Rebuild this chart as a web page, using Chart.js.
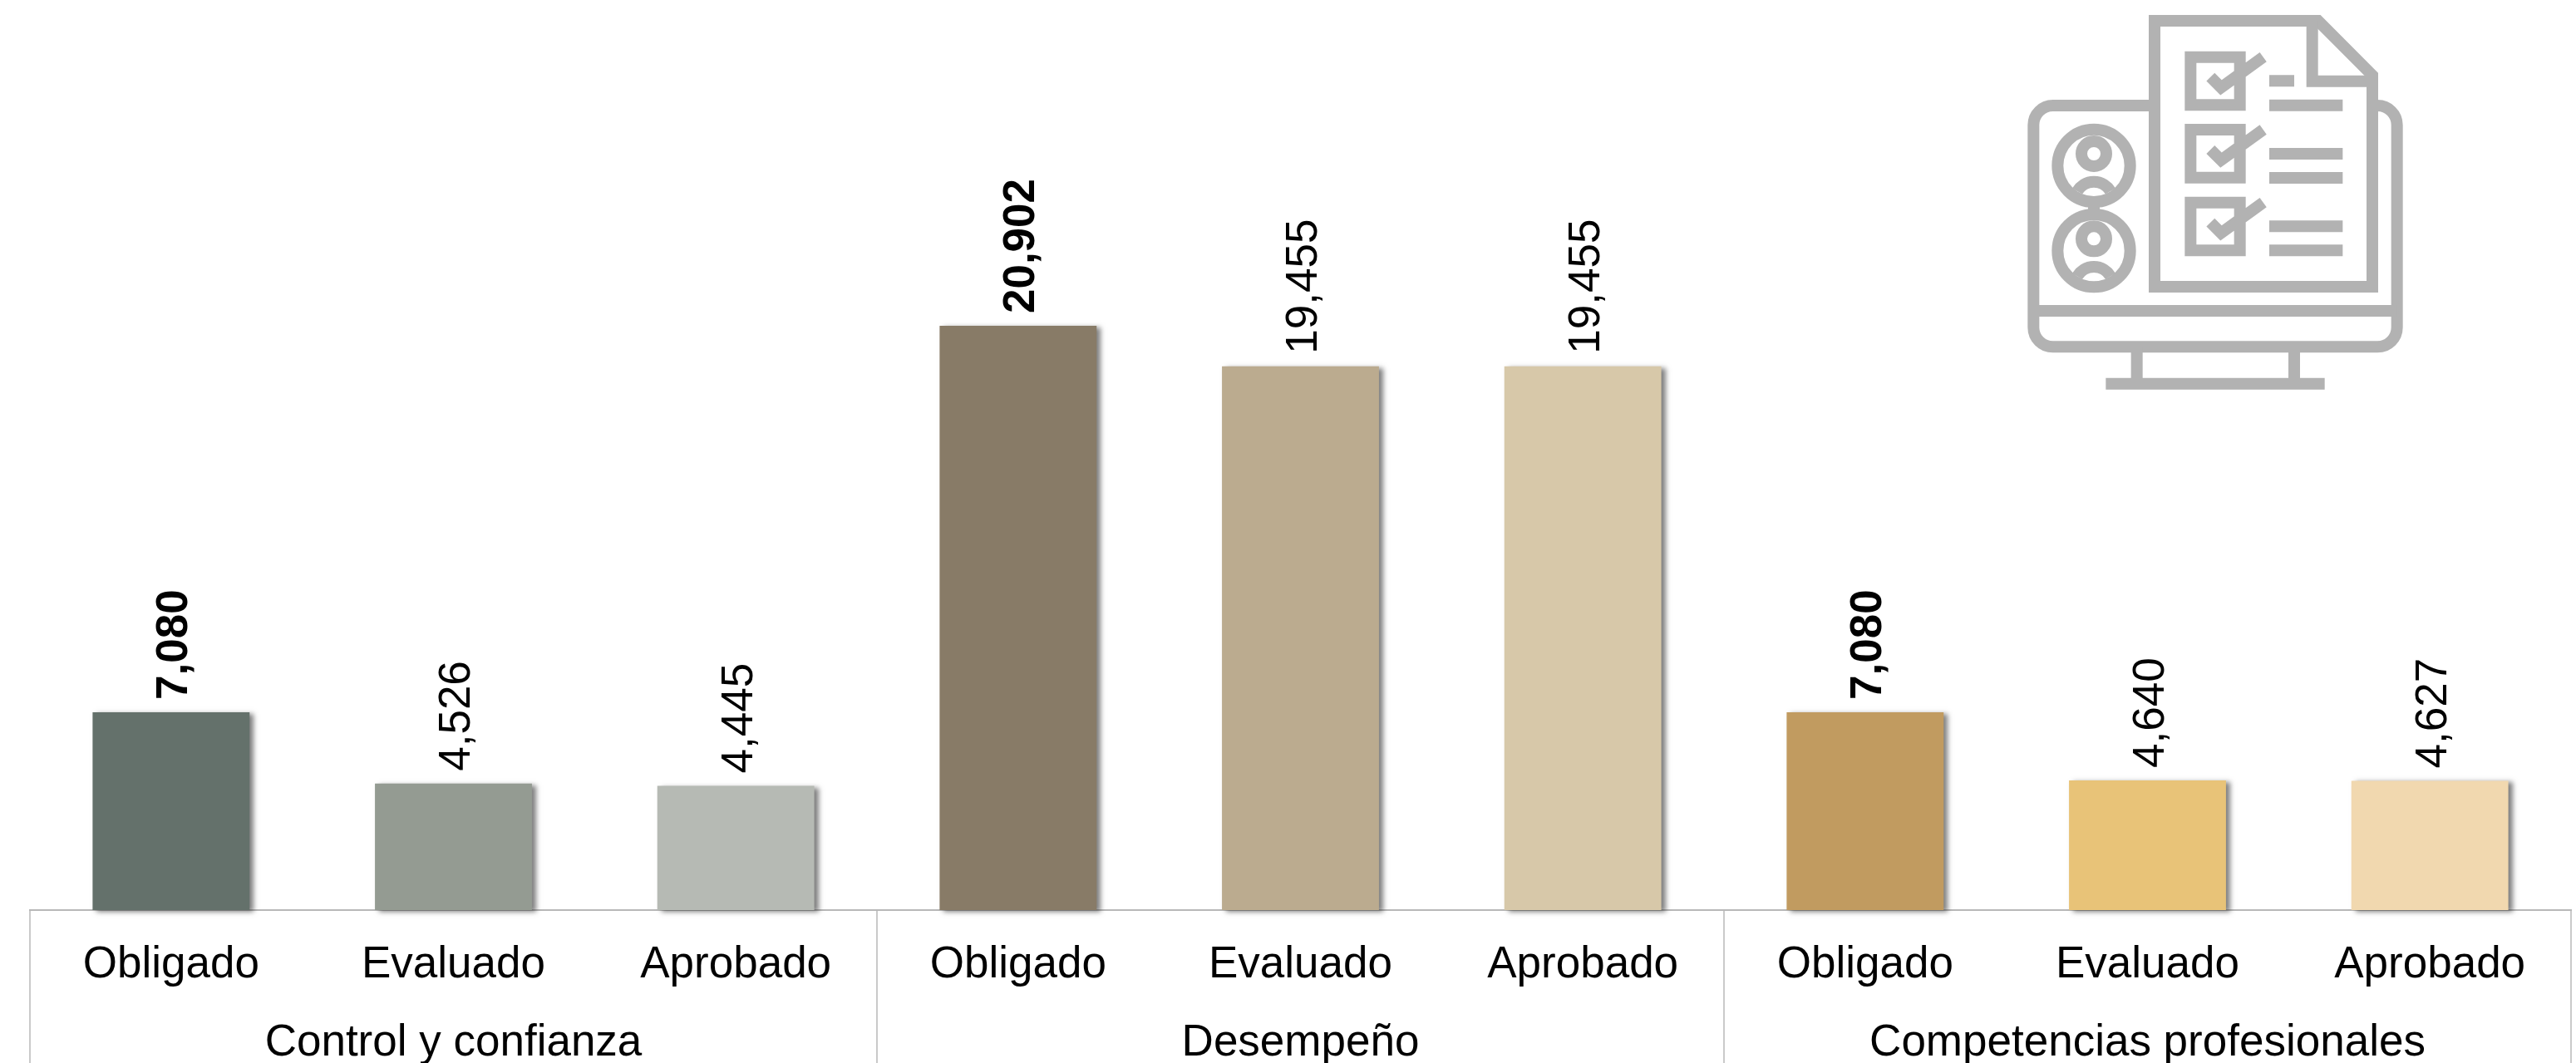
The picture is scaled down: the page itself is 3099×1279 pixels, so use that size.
<!DOCTYPE html>
<html lang="es">
<head>
<meta charset="utf-8">
<title>Chart</title>
<script src="https://cdn.jsdelivr.net/npm/chart.js@4"></script>
<style>
html,body{margin:0;padding:0;background:#fff;overflow:hidden}
#wrap{position:relative;width:3099px;height:1279px}
canvas{position:absolute;left:0;top:0}
#icon{position:absolute;left:2400px;top:0;width:520px;height:490px}
</style>
</head>
<body>
<div id="wrap">
<canvas id="c" width="3099" height="1279"></canvas>
<svg id="icon" viewBox="0 0 1560 1470" preserveAspectRatio="none" fill="none" stroke="#b2b2b2" stroke-width="42">
  <path d="M576 75H1166L1362 272V1035H576Z"/>
  <path d="M1145 75V293H1362"/>
  <path d="M555 381H209A70 70 0 0 0 139 451V1182A70 70 0 0 0 209 1252H1381A70 70 0 0 0 1451 1182V451A70 70 0 0 0 1381 381"/>
  <path d="M139 1122H1451M512 1252V1385M1080 1252V1385M400 1385H1190"/>
  <g id="person1">
    <circle cx="357" cy="598" r="131"/><circle cx="357" cy="555" r="45"/>
    <path d="M297 690A70 70 0 0 1 417 690"/>
  </g>
  <g>
    <circle cx="357" cy="905" r="131"/><circle cx="357" cy="862" r="45"/>
    <path d="M297 997A70 70 0 0 1 417 997"/>
  </g>
  <path d="M357 740V765"/>
  <path d="M706 206H884V379H706ZM778 278L816 316L968 206"/>
  <path d="M706 468H884V641H706ZM778 540L816 578L968 468"/>
  <path d="M706 731H884V904H706ZM778 803L816 841L968 731"/>
  <path d="M990 292H1080M990 380H1255M990 555H1255M990 642H1255M990 817H1255M990 904H1255"/>
</svg>
</div>
<script>
const categories = ['Obligado','Evaluado','Aprobado','Obligado','Evaluado','Aprobado','Obligado','Evaluado','Aprobado'];
const groups = ['Control y confianza','Desempeño','Competencias profesionales'];
const values = [7080,4526,4445,20902,19455,19455,7080,4640,4627];
const barColors = ['#64716b','#949b92','#b6bab4','#887b67','#bbab8f','#d7c8a9','#c19b60','#e8c378','#f1d8af'];
const boldLabels = [true,false,false,true,false,false,true,false,false];
const yMax = 32560;
const fontFamily = '"Liberation Sans", Arial, sans-serif';
const fontSize = 53;
const ruleColor = '#b8b8b8';

const barShadow = {
  id:'barShadow',
  beforeDatasetDraw(chart){
    const c = chart.ctx; c.save();
    c.shadowColor='rgba(0,0,0,0.5)'; c.shadowBlur=6; c.shadowOffsetX=5; c.shadowOffsetY=2;
  },
  afterDatasetDraw(chart){ chart.ctx.restore(); }
};
const valueLabels = {
  id:'valueLabels',
  afterDatasetsDraw(chart){
    const c = chart.ctx;
    chart.getDatasetMeta(0).data.forEach((bar,i)=>{
      c.save();
      c.translate(bar.x, bar.y-15);
      c.rotate(-Math.PI/2);
      c.font=(boldLabels[i]?'bold ':'')+fontSize+'px '+fontFamily;
      c.fillStyle='#000'; c.textAlign='left'; c.textBaseline='middle';
      c.fillText(values[i].toLocaleString('en-US'),0,5);
      c.restore();
    });
  }
};
const groupDividers = {
  id:'groupDividers',
  afterDraw(chart){
    const s = chart.scales.x2, c = chart.ctx, w = s.width/groups.length;
    const top = chart.chartArea.bottom;
    c.save(); c.strokeStyle=ruleColor; c.lineWidth=1.5;
    for(let i=0;i<=groups.length;i++){
      const x = i<groups.length ? s.getPixelForValue(i)-w/2 : s.getPixelForValue(i-1)+w/2;
      c.beginPath(); c.moveTo(x,top); c.lineTo(x,chart.height); c.stroke();
    }
    c.restore();
  }
};
new Chart(document.getElementById('c'),{
  type:'bar',
  data:{labels:categories,datasets:[{data:values,backgroundColor:barColors,borderWidth:0,barPercentage:1,categoryPercentage:0.556,clip:false,xAxisID:'x',yAxisID:'y'}]},
  options:{
    responsive:false,animation:false,
    layout:{padding:{left:36,right:6,top:0,bottom:0}},
    plugins:{legend:{display:false},tooltip:{enabled:false},title:{display:false}},
    scales:{
      y:{display:false,min:0,max:yMax},
      x:{type:'category',position:'bottom',weight:0,offset:true,
        grid:{display:false},
        border:{display:true,color:ruleColor,width:2},
        ticks:{color:'#000',font:{family:fontFamily,size:fontSize},padding:27,maxRotation:0,minRotation:0,autoSkip:false},
        afterFit(s){s.height=95;}},
      x2:{type:'category',position:'bottom',weight:1,offset:true,labels:groups,
        grid:{display:false},border:{display:false},
        ticks:{color:'#000',font:{family:fontFamily,size:fontSize},padding:26,maxRotation:0,minRotation:0,autoSkip:false},
        afterFit(s){s.height=89;}}
    }
  },
  plugins:[barShadow,valueLabels,groupDividers]
});
</script>
</body>
</html>
